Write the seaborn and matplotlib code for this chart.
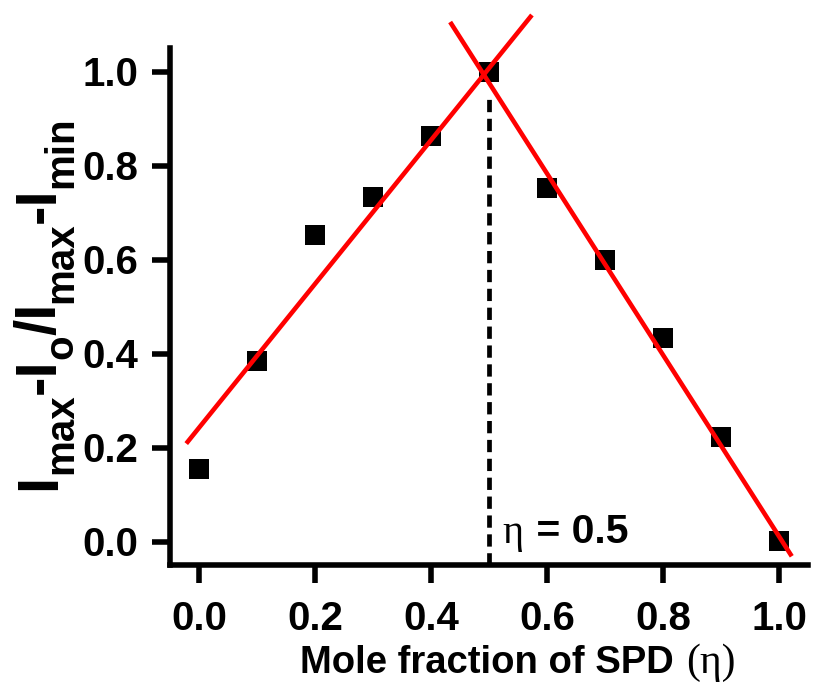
import numpy as np
import pandas as pd
import matplotlib
matplotlib.use("Agg")
import matplotlib.pyplot as plt
from matplotlib.transforms import IdentityTransform
import seaborn as sns

# ---- data ----
mole_fraction = [0.0, 0.1, 0.2, 0.3, 0.4, 0.5, 0.6, 0.7, 0.8, 0.9, 1.0]
response = [0.155, 0.385, 0.652, 0.733, 0.862, 1.0, 0.752, 0.599, 0.432, 0.222, 0.002]

left_fit_slope = 1.53
left_fit_intercept = 0.242
left_fit_range = [-0.022, 0.574]
right_fit_slope = -1.93
right_fit_intercept = 1.941
right_fit_range = [0.433, 1.022]

eta_max = 0.5
x_ticks = [0.0, 0.2, 0.4, 0.6, 0.8, 1.0]
y_ticks = [0.0, 0.2, 0.4, 0.6, 0.8, 1.0]

xlabel_main = "Mole fraction of SPD"
xlabel_symbol = "(\u03b7)"
annot_symbol = "\u03b7"
annot_text = " = 0.5"
# y label pieces: (text, is_subscript)
ylabel_pieces = [("I", False), ("max", True), ("-I", False), ("o", True),
                 ("/I", False), ("max", True), ("-I", False), ("min", True)]

# ---- style ----
sns.set_style("ticks")
plt.rcParams['font.family'] = ['Liberation Sans', 'DejaVu Sans']
plt.rcParams['font.weight'] = 'bold'
for k in ['text.color', 'axes.labelcolor', 'xtick.color', 'ytick.color', 'axes.edgecolor']:
    plt.rcParams[k] = 'black'

W, H = 813, 688
fig = plt.figure(figsize=(W / 100, H / 100), dpi=100)
ax = fig.add_axes([170 / W, 1 - 565 / H, (808 - 170) / W, (565 - 48) / H])

df = pd.DataFrame({"x": mole_fraction, "y": response})

# fit lines
for slope, icpt, rng in [(left_fit_slope, left_fit_intercept, left_fit_range),
                         (right_fit_slope, right_fit_intercept, right_fit_range)]:
    xs = np.array(rng)
    ax.plot(xs, slope * xs + icpt, color='#ff0000', lw=3.3, clip_on=False, zorder=3,
            solid_capstyle='butt')

# dashed line at eta = 0.5
ax.plot([eta_max, eta_max], [-0.05, 0.955], color='black', lw=3.4,
        dashes=(2.6, 1.4), zorder=2, clip_on=False)

sns.scatterplot(data=df, x="x", y="y", marker='s', color='black', s=190,
                linewidth=0, ax=ax, zorder=2.5, clip_on=False)

ax.set_xlim(-0.05, 1.05)
ax.set_ylim(-0.05, 1.05)
ax.set_xticks(x_ticks)
ax.set_yticks(y_ticks)
ax.set_xticklabels([f"{t:.1f}" for t in x_ticks])
ax.set_yticklabels([f"{t:.1f}" for t in y_ticks])

for s in ['top', 'right']:
    ax.spines[s].set_visible(False)
for s in ['left', 'bottom']:
    ax.spines[s].set_linewidth(4.0)
    ax.spines[s].set_color('black')
ax.tick_params(axis='both', direction='out', length=13, width=4.0, color='black',
               labelsize=29)
ax.tick_params(axis='y', pad=10)
ax.tick_params(axis='x', pad=12)
for lbl in ax.get_xticklabels() + ax.get_yticklabels():
    lbl.set_fontweight('bold')
ax.set_xlabel("")
ax.set_ylabel("")

renderer = fig.canvas.get_renderer()
ident = IdentityTransform()

def px_text(x, y, s, **kw):
    # x, y in image pixels (origin top-left)
    return fig.text(x, H - y, s, transform=ident, ha='left', va='baseline', **kw)

# x label: bold sans text followed by a serif eta in parentheses
t1 = px_text(300, 673, xlabel_main, fontsize=27.5, fontweight='bold',
             family='Liberation Sans')
bb = t1.get_window_extent(renderer)
px_text(bb.x1 + 12, 673, xlabel_symbol, fontsize=30, fontweight='normal',
        family='Liberation Serif')

# annotation "eta = 0.5"
t2 = px_text(502, 543, annot_symbol, fontsize=29, fontweight='normal',
             family='Liberation Serif')
bb = t2.get_window_extent(renderer)
px_text(bb.x1 + 2, 543, annot_text, fontsize=29.5, fontweight='bold',
        family='Liberation Sans')

# rotated y label built from pieces (reads bottom to top)
ycur = H - 490
for txt, sub in ylabel_pieces:
    xb = 72 if sub else 55
    t = fig.text(xb, ycur, txt, transform=ident, rotation=90, rotation_mode='anchor',
                 ha='left', va='baseline', fontsize=29 if sub else 42,
                 fontweight='bold', family='Liberation Sans')
    bb = t.get_window_extent(renderer)
    ycur = bb.y1 - 0.5

fig.savefig("out.png", dpi=100, facecolor='white')
